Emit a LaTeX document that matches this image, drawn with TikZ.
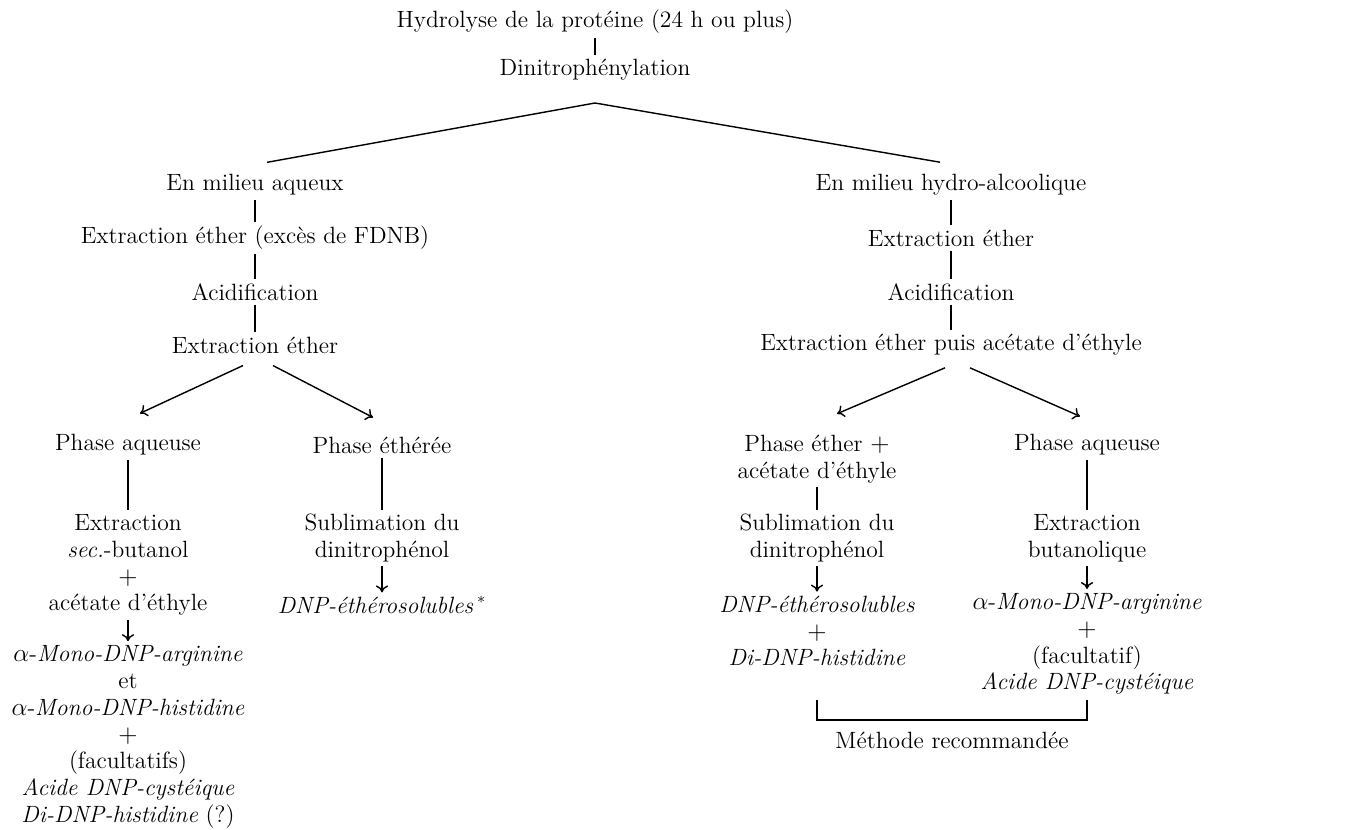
\documentclass[tikz,border=0pt]{standalone}
\usetikzlibrary{arrows.meta}
\begin{document}
\begin{tikzpicture}[x=0.02cm,y=-0.02cm,>={To[length=4pt,width=7pt]},line width=0.8pt,
  every node/.style={align=center,inner sep=2pt,font=\fontsize{13.4}{15.3}\selectfont}]
\useasboundingbox (0,0) rectangle (1359,829);
\node (H) at (595,22){Hydrolyse de la protéine (24 h ou plus)};
\node (D) at (595,70){Dinitrophénylation};
\draw (H)--(D);
\coordinate (S) at (595,103);

% milieu aqueux
\node (A1) at (255,185){En milieu aqueux};
\node (A2) at (255,238){Extraction éther (excès de FDNB)};
\node (A3) at (255,292){Acidification};
\node (A4) at (255,345){Extraction éther};
\draw ([shift={(12,-8)}]A1.north)--(S);
\draw (A1)--(A2);
\draw (A2)--(A3);
\draw (A3)--(A4);

% milieu hydro-alcoolique
\node (B1) at (951,185){En milieu hydro-alcoolique};
\node (B2) at (951,238){Extraction éther};
\node (B3) at (951,292){Acidification};
\node (B4) at (951,345){Extraction éther puis acétate d'éthyle};
\draw (S)--([shift={(-11,-8)}]B1.north);
\draw (B1)--(B2);
\draw (B2)--(B3);
\draw (B3)--(B4);

% phases
\node (P1) at (128,445){Phase aqueuse};
\node (P2) at (382,445){Phase éthérée};
\node (P3) at (817,459){Phase éther $+$\\acétate d'éthyle};
\node (P4) at (1087,445){Phase aqueuse};
\draw[->] ([shift={(-12,8)}]A4.south)--([shift={(12,-17)}]P1.north);
\draw[->] ([shift={(18,8)}]A4.south)--([shift={(-9,-15)}]P2.north);
\draw[->] ([shift={(-6,8)}]B4.south)--([shift={(20,-17)}]P3.north);
\draw[->] ([shift={(19,8)}]B4.south)--([shift={(-7,-14)}]P4.north);

% colonne 1
\node (L1) at (128,565){Extraction\\\textit{sec.}-butanol\\$+$\\acétate d'éthyle};
\node (L2) at (128,737){$\alpha$-\textit{Mono-DNP-arginine}\\et\\$\alpha$-\textit{Mono-DNP-histidine}\\$+$\\(facultatifs)\\\textit{Acide DNP-cystéique}\\\textit{Di-DNP-histidine} (?)};
\draw (P1)--(L1);
\draw[->] (L1)--(L2);

% colonne 2
\node (M1) at (382,538){Sublimation du\\dinitrophénol};
\node (M2) at (382,605){\textit{DNP-éthérosolubles}\,$^*$};
\draw (P2)--(M1);
\draw[->] (M1)--(M2);

% colonne 3
\node (R1) at (817,538){Sublimation du\\dinitrophénol};
\node (R2) at (817,631){\textit{DNP-éthérosolubles}\\$+$\\\textit{Di-DNP-histidine}};
\draw (P3)--(R1);
\draw[->] (R1)--(R2);

% colonne 4
\node (T1) at (1087,538){Extraction\\butanolique};
\node (T2) at (1087,644){$\alpha$-\textit{Mono-DNP-arginine}\\$+$\\(facultatif)\\\textit{Acide DNP-cystéique}};
\draw (P4)--(T1);
\draw[->] (T1)--(T2);

% methode
\coordinate (K1) at (817,700);
\coordinate (K2) at (1087,700);
\draw (K1)--++(0,20)-|(K2);
\node (M) at (952,740){Méthode recommandée};
\end{tikzpicture}
\end{document}
